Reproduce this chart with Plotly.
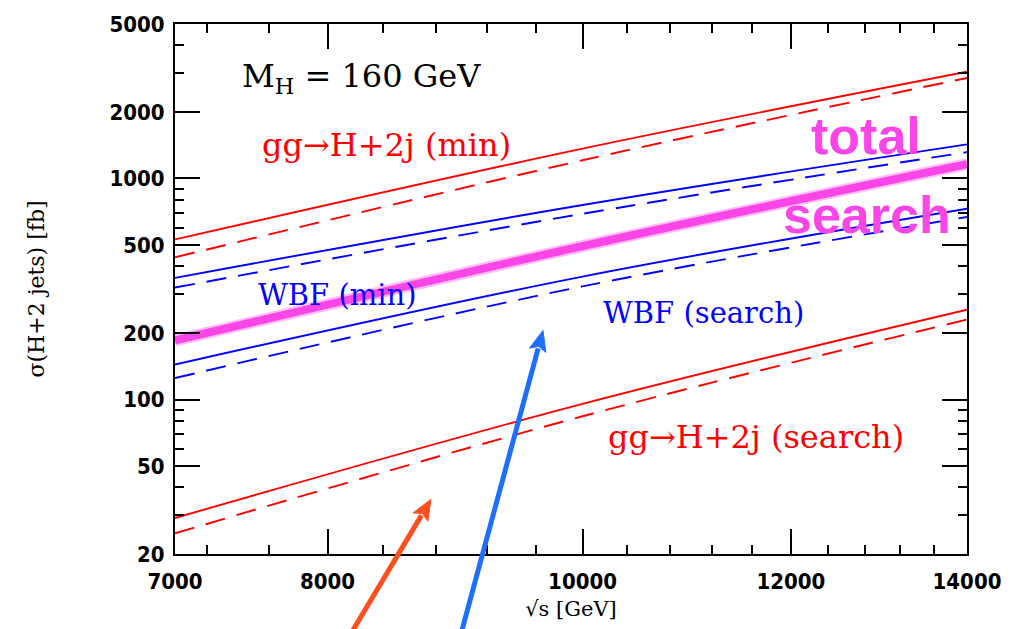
import math
import plotly.graph_objects as go

# --- data ---
sqrt_s = [7000, 10000, 14000]
gg_min_solid = [530, 1365, 3040]
gg_min_dashed = [440, 1209, 2850]
wbf_min_solid = [355, 759, 1427]
wbf_min_dashed = [321, 692, 1316]
total_search = [185, 494, 1160]
wbf_search_solid = [144, 360, 730]
wbf_search_dashed = [125, 325, 670]
gg_search_solid = [29.1, 95.5, 255]
gg_search_dashed = [24.8, 84, 230]

x_tickvals = [7000, 8000, 10000, 12000, 14000]
x_ticktext = ["7000", "8000", "10000", "12000", "14000"]
x_minor = [7200, 7600, 8400, 8800, 9200, 9600, 10400, 10800, 11200, 11600,
           12400, 12800, 13200, 13600]
y_tickvals = [20, 50, 100, 200, 500, 1000, 2000, 5000]
y_ticktext = ["20", "50", "100", "200", "500", "1000", "2000", "5000"]
y_minor = [30, 40, 60, 70, 80, 90, 300, 400, 600, 700, 800, 900, 3000, 4000]

RED = "#ff0000"
BLUE = "#0000ff"
MAG = "#fa46e6"

fig = go.Figure()

def add_line(y, color, dash=None, width=1.9):
    fig.add_trace(go.Scatter(
        x=sqrt_s, y=y, mode="lines",
        line=dict(color=color, width=width, dash=dash, shape="spline"),
        showlegend=False, hoverinfo="skip"))

add_line(gg_min_solid, RED)
add_line(gg_min_dashed, RED, "20px,12px")
add_line(wbf_min_solid, BLUE)
add_line(wbf_min_dashed, BLUE, "20px,12px")
add_line(wbf_search_solid, BLUE)
add_line(wbf_search_dashed, BLUE, "20px,12px")
add_line(gg_search_solid, RED)
add_line(gg_search_dashed, RED, "20px,12px")
# fuzzy magenta band
add_line(total_search, "rgba(250,70,230,0.35)", None, 12)
add_line(total_search, MAG, None, 8)

TICKFONT = dict(family="DejaVu Sans Condensed, DejaVu Sans", size=22,
                color="black", weight="bold")

axis_common = dict(
    type="log", showline=True, linecolor="black", linewidth=2,
    mirror="allticks", ticks="inside", ticklen=25, tickwidth=2,
    tickcolor="black", showgrid=False, zeroline=False,
    tickfont=TICKFONT,
)

fig.update_xaxes(
    **axis_common,
    range=[3.84509804, 4.14612804],
    tickmode="array", tickvals=x_tickvals, ticktext=x_ticktext,
    minor=dict(tickmode="array", tickvals=x_minor, ticks="inside",
               ticklen=9, tickwidth=2, tickcolor="black", showgrid=False),
    title=dict(text="√s [GeV]", font=dict(family="DejaVu Serif", size=21, color="black"),
               standoff=8),
    ticklabelstandoff=7,
)
fig.update_yaxes(
    **axis_common,
    range=[1.30103, 3.69897],
    tickmode="array", tickvals=y_tickvals, ticktext=y_ticktext,
    minor=dict(tickmode="array", tickvals=y_minor, ticks="inside",
               ticklen=9, tickwidth=2, tickcolor="black", showgrid=False),
    title=dict(text="σ(H+2 jets) [fb]", font=dict(family="DejaVu Serif", size=22, color="black"),
               standoff=59),
    ticklabelstandoff=4,
)

def px_to_paper(px, py):
    return (px - 175) / 792.0, (562 - py) / 543.0

def label(text, px, py, color, size, family="DejaVu Serif"):
    x, y = px_to_paper(px, py)
    fig.add_annotation(x=x, y=y, xref="paper", yref="paper", text=text,
                       showarrow=False, xanchor="center", yanchor="middle",
                       font=dict(family=family, size=size, color=color))

label("M<sub>H</sub> = 160 GeV", 361, 74, "black", 32)
label("gg→H+2j (min)", 386, 143, RED, 32)
label("WBF (min)", 337, 297, BLUE, 29)
label("WBF (search)", 703, 315, BLUE, 29)
label("gg→H+2j (search)", 756, 442, RED, 32)
label("<b>total</b>", 866, 134, MAG, 52, "Liberation Sans")
label("<b>search</b>", 867, 215, MAG, 52, "Liberation Sans")

def arrow(tail, tip, color, width=5, head_len=21, head_w=17):
    tx, ty = tail
    hx, hy = tip
    d = math.hypot(hx - tx, hy - ty)
    ux, uy = (hx - tx) / d, (hy - ty) / d
    bx, by = hx - ux * head_len, hy - uy * head_len
    px_, py_ = -uy, ux
    x0, y0 = px_to_paper(tx, ty)
    x1, y1 = px_to_paper(bx + ux * 2, by + uy * 2)
    fig.add_shape(type="line", xref="paper", yref="paper",
                  x0=x0, y0=y0, x1=x1, y1=y1,
                  line=dict(color=color, width=width), layer="above")
    pts = [(hx, hy),
           (bx + px_ * head_w / 2, by + py_ * head_w / 2),
           (hx - ux * head_len * 0.8, hy - uy * head_len * 0.8),
           (bx - px_ * head_w / 2, by - py_ * head_w / 2)]
    pp = [px_to_paper(a, b) for a, b in pts]
    path = "M " + " L ".join(f"{a:.5f},{b:.5f}" for a, b in pp) + " Z"
    fig.add_shape(type="path", xref="paper", yref="paper", path=path,
                  fillcolor=color, line=dict(color=color, width=1), layer="above")

arrow((353, 640), (431, 506), "#ff4f1f")
arrow((462, 640), (543, 333), "#1f6fff")

fig.update_layout(
    width=1028, height=629,
    margin=dict(l=175, r=61, t=19, b=67),
    paper_bgcolor="white", plot_bgcolor="white",
    showlegend=False,
)

fig.write_html("out.html")
